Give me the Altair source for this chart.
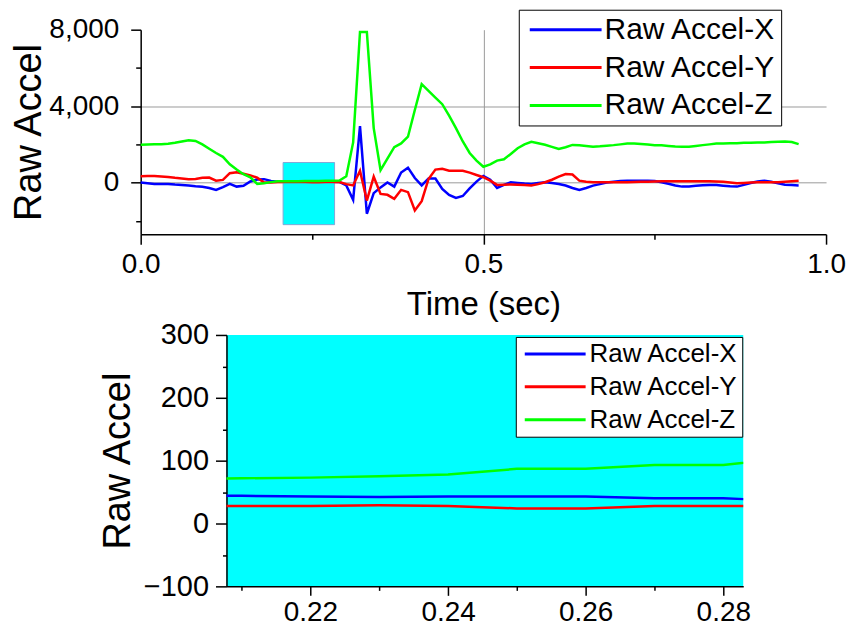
import altair as alt
import pandas as pd

series_names = ["Raw Accel-X", "Raw Accel-Y", "Raw Accel-Z"]
series_colors = ["#0000FF", "#FF0000", "#00FF00"]

time_s = [
    0.00, 0.01, 0.02, 0.03, 0.04, 0.05, 0.06, 0.07, 0.08, 0.09,
    0.10, 0.11, 0.12, 0.13, 0.14, 0.15, 0.16, 0.17, 0.18, 0.19,
    0.20, 0.21, 0.22, 0.23, 0.24, 0.25, 0.26, 0.27, 0.28, 0.29,
    0.30, 0.31, 0.32, 0.33, 0.34, 0.35, 0.36, 0.37, 0.38, 0.39,
    0.40, 0.41, 0.42, 0.43, 0.44, 0.45, 0.46, 0.47, 0.48, 0.49,
    0.50, 0.51, 0.52, 0.53, 0.54, 0.55, 0.56, 0.57, 0.58, 0.59,
    0.60, 0.61, 0.62, 0.63, 0.64, 0.65, 0.66, 0.67, 0.68, 0.69,
    0.70, 0.71, 0.72, 0.73, 0.74, 0.75, 0.76, 0.77, 0.78, 0.79,
    0.80, 0.81, 0.82, 0.83, 0.84, 0.85, 0.86, 0.87, 0.88, 0.89,
    0.90, 0.91, 0.92, 0.93, 0.94, 0.95, 0.96,
]

accel_x = [
    0, -30, -70, -70, -70, -100, -120, -150, -190, -220,
    -280, -380, -240, -70, -210, -170, 60, 165, 180, 90,
    44, 44, 43, 42, 43, 43, 43, 40, 40, 36,
    -150, -900, 2950, -1630, -550, -250, 10, -210, 530, 780,
    240, -150, 220, 210, -330, -650, -800, -700, -300, 50,
    350, 150, -280, -120, 17, -20, -50, -70, -20, 17,
    -20, -70, -150, -280, -380, -280, -160, -80, 0, 40,
    80, 100, 100, 100, 100, 80, 17, -60, -150, -210,
    -200, -170, -140, -120, -130, -160, -190, -210, -120, -20,
    60, 100, 40, -40, -110, -130, -150,
]

accel_y = [
    330, 340, 350, 320, 290, 250, 220, 180, 190, 250,
    260, 100, 140, 490, 540, 460, 370, 260, 10, 0,
    28, 28, 28, 29, 28, 24, 24, 28, 28, 28,
    -80, -150, 620, -940, 310, -590, -640, -850, -380, -500,
    -1460, -970, 190, 680, 720, 625, 625, 620, 520, 400,
    280, 100, -120, -110, -100, -110, -130, -150, -80, 17,
    150, 310, 450, 420, 100, 50, 17, 17, 17, 17,
    17, 17, 30, 40, 50, 60, 70, 70, 70, 70,
    70, 70, 70, 70, 60, 40, 10, -35, -20, 0,
    17, 17, 17, 17, 40, 70, 100,
]

accel_z = [
    1980, 1990, 2000, 2010, 2030, 2080, 2150, 2220, 2180, 2000,
    1770, 1550, 1350, 960, 680, 440, 280, -70, -30, 25,
    70, 72, 73, 75, 78, 87, 87, 93, 93, 105,
    330, 2100, 7880, 7880, 2850, 650, 1250, 1850, 2050, 2400,
    3800, 5150, 4800, 4450, 4100, 3500, 2850, 2150, 1550, 1150,
    830, 950, 1150, 1220, 1500, 1800, 2000, 2130, 2060, 1980,
    1870, 1760, 1850, 1970, 1950, 1920, 1880, 1900, 1930, 1960,
    2000, 2040, 2050, 2020, 1990, 1960, 1950, 1920, 1890, 1875,
    1880, 1920, 1960, 2000, 2040, 2050, 2060, 2060, 2080, 2090,
    2100, 2100, 2120, 2140, 2150, 2120, 2010,
]

# zoomed window (time range) and the marker box drawn on the overview
zoom_time = [0.2078, 0.2829]
zoom_box = [-2200, 1050]

top_x_domain = [0.0, 1.0]
top_y_domain = [-2700, 8000]
top_x_ticks = [0.0, 0.25, 0.5, 0.75, 1.0]
top_y_ticks = [-2000, 0, 2000, 4000, 6000, 8000]

bottom_y_domain = [-100, 300]
bottom_x_ticks = [0.21, 0.22, 0.23, 0.24, 0.25, 0.26, 0.27, 0.28]
bottom_y_ticks = [-100, -50, 0, 50, 100, 150, 200, 250, 300]

rows = []
for name, vals in zip(series_names, [accel_x, accel_y, accel_z]):
    for t, v in zip(time_s, vals):
        rows.append({"time": t, "accel": v, "series": name})
df = pd.DataFrame(rows)

box_df = pd.DataFrame({"t0": [zoom_time[0]], "t1": [zoom_time[1]],
                       "v0": [zoom_box[0]], "v1": [zoom_box[1]]})

FONT = "Liberation Sans"


def cond(test, yes, no):
    return {"condition": {"test": test, "value": yes}, "value": no}


# ---------- top (overview) ----------
tx_major = "abs(datum.value*2 - round(datum.value*2)) < 0.000001"
x_top_axis = alt.Axis(
    values=top_x_ticks,
    labelExpr=f"{tx_major} ? format(datum.value, '.1f') : ''",
    tickSize=cond(tx_major, 10, 5),
    grid=True,
    gridOpacity=cond("datum.value == 0.5", 1, 0),
    gridColor="#9a9a9a",
    labelFontSize=28, titleFontSize=33,
    labelPadding=6, titlePadding=10,
)
ty_major = "datum.value % 4000 == 0"
y_top_axis = alt.Axis(
    values=top_y_ticks,
    labelExpr=f"{ty_major} ? format(datum.value, ',') : ''",
    tickSize=cond(ty_major, 10, 5),
    grid=True,
    gridOpacity=cond("datum.value == 0 || datum.value == 4000", 1, 0),
    gridColor="#9a9a9a",
    labelFontSize=28, titleFontSize=38,
    labelPadding=12, titlePadding=0,
)
xs_top = alt.Scale(domain=top_x_domain, nice=False, zero=False)
ys_top = alt.Scale(domain=top_y_domain, nice=False, zero=False)

box = alt.Chart(box_df).mark_rect(color="#00FFFF", stroke="#7FA9D8", strokeWidth=1).encode(
    x=alt.X("t0:Q", scale=xs_top, axis=x_top_axis, title="Time (sec)"),
    x2="t1:Q",
    y=alt.Y("v0:Q", scale=ys_top, axis=y_top_axis, title="Raw Accel"),
    y2="v1:Q",
)

top_lines = alt.Chart(df).mark_line(strokeWidth=2.5).encode(
    x=alt.X("time:Q", scale=xs_top, axis=x_top_axis, title="Time (sec)"),
    y=alt.Y("accel:Q", scale=ys_top, axis=y_top_axis, title="Raw Accel"),
    color=alt.Color(
        "series:N",
        scale=alt.Scale(domain=series_names, range=series_colors),
        legend=alt.Legend(
            title=None, orient="none", legendX=379, legendY=-20, direction="vertical",
            fillColor="white", strokeColor="black", padding=5,
            symbolType="M-1,0H7", symbolSize=324, symbolStrokeWidth=3,
            labelFontSize=30, labelFont=FONT, labelColor="black", labelLimit=400,
            labelOffset=51, rowPadding=8,
        ),
    ),
    order=alt.Order("time:Q"),
)

top = alt.layer(box, top_lines).properties(width=687, height=205)

# ---------- bottom (zoom) ----------
bx_major = "round(datum.value*100) % 2 == 0"
x_bot_axis = alt.Axis(
    values=bottom_x_ticks,
    labelExpr=f"{bx_major} ? format(datum.value, '.2f') : ''",
    tickSize=cond(bx_major, 9, 4),
    grid=False,
    labelFontSize=28, labelPadding=3,
)
by_major = "datum.value % 100 == 0"
y_bot_axis = alt.Axis(
    values=bottom_y_ticks,
    labelExpr=f"{by_major} ? format(datum.value, 'd') : ''",
    tickSize=cond(by_major, 11, 4),
    grid=False,
    labelFontSize=29, titleFontSize=38,
    labelPadding=7, titlePadding=6,
)

bottom = alt.Chart(df).mark_line(strokeWidth=2.5, clip=True).encode(
    x=alt.X("time:Q", scale=alt.Scale(domain=zoom_time, nice=False, zero=False),
            axis=x_bot_axis, title=None),
    y=alt.Y("accel:Q", scale=alt.Scale(domain=bottom_y_domain, nice=False, zero=False),
            axis=y_bot_axis, title="Raw Accel"),
    color=alt.Color(
        "series:N",
        scale=alt.Scale(domain=series_names, range=series_colors),
        legend=alt.Legend(
            title=None, orient="none", legendX=376, legendY=2, direction="vertical",
            fillColor="white", strokeColor="black", padding=4,
            symbolType="M-1,0H6.625", symbolSize=256, symbolStrokeWidth=3,
            labelFontSize=26, labelFont=FONT, labelColor="black", labelLimit=400,
            labelOffset=44, rowPadding=7,
        ),
    ),
    order=alt.Order("time:Q"),
).properties(width=518, height=252, view=alt.ViewBackground(fill="#00FFFF", stroke=None))

spacer = alt.Chart(pd.DataFrame({"s": [0]})).mark_point(opacity=0).properties(width=86, height=252)

bottom_row = alt.hconcat(spacer, bottom, spacing=0, bounds="flush")

chart = (
    alt.vconcat(top, bottom_row, spacing=101, bounds="flush")
    .resolve_scale(color="independent")
    .properties(padding={"top": 0, "left": 2, "right": 0, "bottom": 0})
    .configure_view(stroke=None)
    .configure_axis(
        domainColor="black", domainWidth=1.5, tickColor="black", tickWidth=1.5,
        labelColor="black", titleColor="black", labelFont=FONT, titleFont=FONT,
        titleFontWeight="normal", labelFlush=False, labelOverlap=False,
    )
)

chart.save("out.html", embed_options={"renderer": "svg", "actions": False})
